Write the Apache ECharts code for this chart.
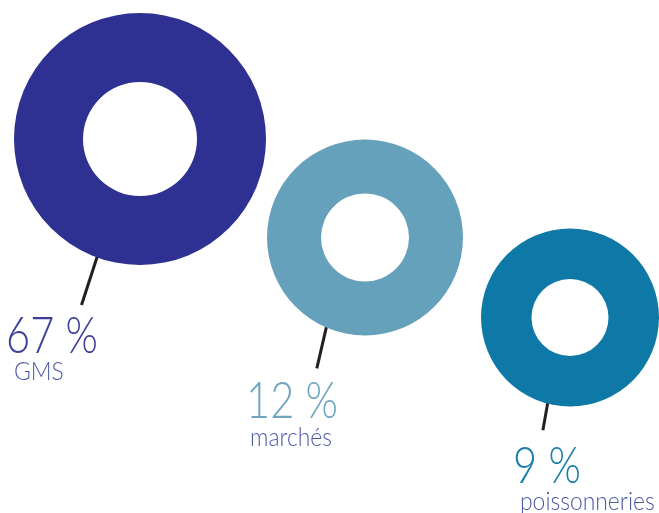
<!DOCTYPE html>
<html><head><meta charset="utf-8">
<script src="https://cdn.jsdelivr.net/npm/echarts@6/dist/echarts.min.js"></script>
<style>html,body{margin:0;padding:0;background:#fff}#c{width:659px;height:513px}</style>
</head><body><div id="c"></div>
<script>
// Data
var categories = ['GMS', 'marchés', 'poissonneries'];
var shares = [67, 12, 9];
var shareLabels = ['67 %', '12 %', '9 %'];

// Layout / style
var colors = ['#2e3192', '#66a1bb', '#0e79a6'];
var pctColors = ['#3b3f99', '#6fa6bf', '#1a7eab'];
var nameColor = '#4b58a6';
var centers = [[140, 139], [365, 237.5], [570, 317.5]];
var radii = [[57, 126], [44, 98], [38.5, 89]];
var startAngles = [-110, -113.5, -104.7]; // where the leader leaves the ring
var lineAngles = [-108, -103, -100];      // direction of the leader
var leadLen = [52, 44, 29];
var pctPos = [[6, 336], [246, 401], [513, 466]];
var namePos = [[14, 372], [250, 438], [520, 502]];

var chart = echarts.init(document.getElementById('c'), null, {renderer: 'canvas'});
var series = [];
var graphics = [];
for (var i = 0; i < categories.length; i++) {
  series.push({
    type: 'pie',
    name: categories[i],
    center: centers[i],
    radius: radii[i],
    silent: true,
    label: {show: false},
    labelLine: {show: false},
    itemStyle: {color: colors[i], borderWidth: 0},
    emphasis: {disabled: true},
    data: [{name: categories[i], value: shares[i]}]
  });
  var a = startAngles[i] * Math.PI / 180;
  var b = lineAngles[i] * Math.PI / 180;
  var r0 = radii[i][1] - 2;
  var x1 = centers[i][0] + r0 * Math.cos(a), y1 = centers[i][1] - r0 * Math.sin(a);
  graphics.push({
    type: 'line',
    silent: true,
    shape: {
      x1: x1, y1: y1,
      x2: x1 + leadLen[i] * Math.cos(b), y2: y1 - leadLen[i] * Math.sin(b)
    },
    style: {stroke: '#231f20', lineWidth: 3}
  });
  graphics.push({
    type: 'text',
    silent: true,
    x: pctPos[i][0], y: pctPos[i][1],
    scaleX: 0.8,
    style: {
      text: shareLabels[i], fill: pctColors[i],
      font: '300 52px Lato', textAlign: 'left', textVerticalAlign: 'middle'
    }
  });
  graphics.push({
    type: 'text',
    silent: true,
    x: namePos[i][0], y: namePos[i][1],
    scaleX: 0.88,
    style: {
      text: categories[i], fill: nameColor,
      font: '300 26px Lato', textAlign: 'left', textVerticalAlign: 'middle'
    }
  });
}
chart.setOption({
  animation: false,
  series: series,
  graphic: graphics
});
</script></body></html>
